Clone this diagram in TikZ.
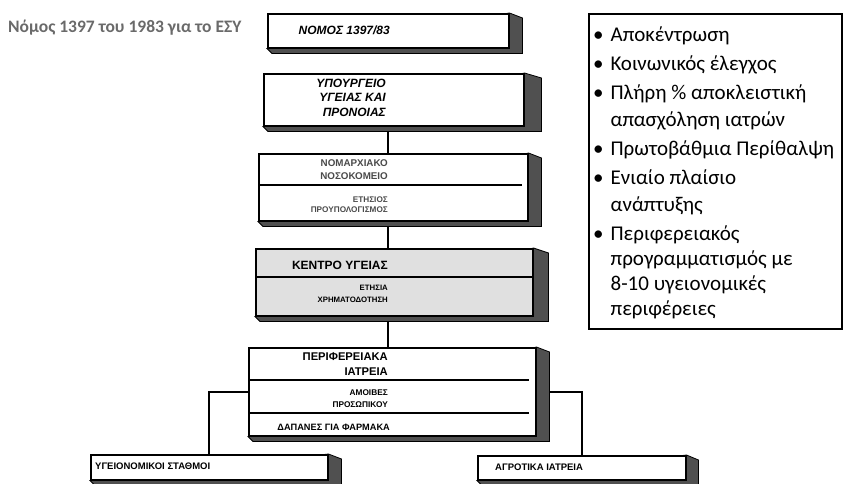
\documentclass[tikz,border=0pt]{standalone}
\usepackage{fontspec}
\setmainfont{Liberation Sans}
\newfontfamily\calfont{Carlito}
\usetikzlibrary{backgrounds}
\definecolor{sidec}{HTML}{505050}
\definecolor{grayfill}{HTML}{E0E0E0}
\definecolor{titlec}{HTML}{6A6A6A}
\definecolor{faintc}{HTML}{4A4A4A}
\tikzset{
  box/.style={draw=black,line width=1.5pt,fill=white,inner sep=0pt,anchor=north west},
  lbl/.style 2 args={font=\bfseries\fontsize{#1}{#2}\selectfont,anchor=east,inner sep=0pt,align=right},
  ital/.style={font=\bfseries\itshape\fontsize{#1}{14.5}\selectfont,anchor=east,inner sep=0pt,align=right},
  ln/.style={line width=2pt,black},
  dv/.style={line width=1.3pt,black},
  item/.style={font=\calfont\fontsize{21}{27}\selectfont,anchor=base west,inner sep=0pt}
}
\newcommand{\boxside}[2]{%
  \fill[sidec,draw=black,line width=0.8pt] (#1.south west) -- ++(5pt,-5pt)
    -- ([xshift=#2,yshift=-5pt]#1.south east) -- ([xshift=#2,yshift=-5pt]#1.north east)
    -- (#1.north east) -- cycle;}
\newcommand{\bul}[1]{\begin{tabular}[t]{@{}l@{\hspace{7pt}}l@{}}#1\end{tabular}}

\begin{document}
\begin{tikzpicture}[x=1pt,y=-1pt]
\useasboundingbox (0,0) rectangle (843,483);
\coordinate (spine) at (388,0);

\node[anchor=west,inner sep=0pt,text=titlec,font=\calfont\bfseries\fontsize{17.5}{20}\selectfont] (ttl) at (8,28) {Νόμος 1397 του 1983 για το ΕΣΥ};

\node[box,minimum width=241pt,minimum height=34pt] (nomos) at (267,13) {};
\node[box,minimum width=260pt,minimum height=52pt] (ypourg) at (263,73) {};
\node[box,minimum width=269pt,minimum height=67pt] (nomarx) at (258,153) {};
\node[box,fill=grayfill,minimum width=277pt,minimum height=67pt] (kentro) at (255,248) {};
\node[box,minimum width=287pt,minimum height=88pt] (perif) at (248,347) {};
\node[box,minimum width=237pt,minimum height=25pt] (stathmoi) at (90,454) {};
\node[box,minimum width=208pt,minimum height=24pt] (agrot) at (477,455) {};

\begin{scope}[on background layer]
\boxside{nomos}{13pt}
\boxside{ypourg}{17pt}
\boxside{nomarx}{13pt}
\boxside{kentro}{15pt}
\boxside{perif}{13pt}
\boxside{stathmoi}{13pt}
\boxside{agrot}{12pt}
\end{scope}

\draw[dv] (nomarx.west |- 0,185) -- ([xshift=-7pt]nomarx.east |- 0,185);
\draw[dv] (kentro.west |- 0,277) -- (kentro.east |- 0,277);
\draw[dv] (perif.west |- 0,380) -- ([xshift=-8pt]perif.east |- 0,380);
\draw[dv] (perif.west |- 0,413) -- ([xshift=-8pt]perif.east |- 0,413);

\node[ital=12] (tnomos) at (390,30) {ΝΟΜΟΣ 1397/83};
\node[ital=12] (typourg) at (386,97.5) {ΥΠΟΥΡΓΕΙΟ\\ΥΓΕΙΑΣ ΚΑΙ\\ΠΡΟΝΟΙΑΣ};
\node[lbl={9.8}{13},text=faintc] (tnomarx) at (388,170) {ΝΟΜΑΡΧΙΑΚΟ\\ΝΟΣΟΚΟΜΕΙΟ};
\node[lbl={8.2}{10},text=faintc] (tprou) at (388,205) {ΕΤΗΣΙΟΣ\\ΠΡΟΥΠΟΛΟΓΙΣΜΟΣ};
\node[lbl={12}{14}] (tkentro) at (388,265) {ΚΕΝΤΡΟ ΥΓΕΙΑΣ};
\node[lbl={7.8}{12}] (tchrim) at (388,294) {ΕΤΗΣΙΑ\\ΧΡΗΜΑΤΟΔΟΤΗΣΗ};
\node[lbl={11.2}{15}] (tperif) at (388,364) {ΠΕΡΙΦΕΡΕΙΑΚΑ\\ΙΑΤΡΕΙΑ};
\node[lbl={8.3}{12.5}] (tamoib) at (388,398.5) {ΑΜΟΙΒΕΣ\\ΠΡΟΣΩΠΙΚΟΥ};
\node[lbl={9.2}{11}] (tdap) at (390,427) {ΔΑΠΑΝΕΣ ΓΙΑ ΦΑΡΜΑΚΑ};
\node[lbl={9.5}{11},anchor=west] (tstath) at (95,466) {ΥΓΕΙΟΝΟΜΙΚΟΙ ΣΤΑΘΜΟΙ};
\node[lbl={9.5}{11},anchor=west] (tagrot) at (495,467) {ΑΓΡΟΤΙΚΑ ΙΑΤΡΕΙΑ};

\draw[ln] ([yshift=-5pt]ypourg.south -| spine) -- (nomarx.north -| spine);
\draw[ln] ([yshift=-5pt]nomarx.south -| spine) -- (kentro.north -| spine);
\draw[ln] ([yshift=-5pt]kentro.south -| spine) -- (perif.north -| spine);
\coordinate (pright) at ([xshift=13pt]perif.east);
\draw[ln] (perif.west |- 0,392) -| (stathmoi.north);
\draw[ln] (pright |- 0,392) -| (agrot.north);

\node[draw=black,line width=1.6pt,anchor=north west,inner sep=0pt,minimum width=253pt,minimum height=315pt] (info) at (588,13) {};
\node[item] (it1) at (593,41) {\bul{•&Αποκέντρωση}};
\node[item] (it2) at (593,70) {\bul{•&Κοινωνικός έλεγχος}};
\node[item] (it3) at (593,99) {\bul{•&Πλήρη \% αποκλειστική\\&απασχόληση ιατρών}};
\node[item] (it4) at (593,155) {\bul{•&Πρωτοβάθμια Περίθαλψη}};
\node[item] (it5) at (593,184) {\bul{•&Ενιαίο πλαίσιο\\&ανάπτυξης}};
\node[item,font=\calfont\fontsize{21}{25}\selectfont] (it6) at (593,240) {\bul{•&Περιφερειακός\\&προγραμματισμός με\\&8-10 υγειονομικές\\&περιφέρειες}};
\end{tikzpicture}
\end{document}
